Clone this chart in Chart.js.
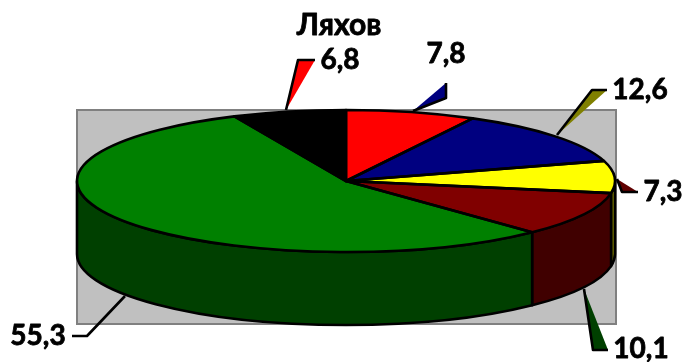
<!DOCTYPE html>
<html>
<head>
<meta charset="utf-8">
<script src="https://cdn.jsdelivr.net/npm/chart.js@4"></script>
<style>
  body { margin: 0; background: #fff; }
  canvas { display: block; }
</style>
</head>
<body>
<canvas id="myChart" width="684" height="362"></canvas>
<script>
// slices run clockwise from 12 o'clock
const categories = ["", "", "", "", "", "Ляхов"];
const values = [7.8, 12.6, 7.3, 10.1, 55.3, 6.8];
const topColors = ["#FF0000", "#000080", "#FFFF00", "#800000", "#008000", "#000000"];
const sideColors = ["#800000", "#000040", "#808000", "#400000", "#004000", "#000000"];
const leaderColors = ["#000080", "#808000", "#600000", "#004000", null, "#FF0000"];

// tilted pie geometry
const cx = 346, cy = 181, rx = 269, ry = 71, depth = 73;
const plate = { x: 77, y: 110, w: 539, h: 214 };

// callout per slice: wedge outline points, label anchor
const callouts = [
  { pts: [[413, 111], [446, 98], [446, 83]], lx: 446, ly: 54 },
  { pts: [[557, 135], [592, 90], [607, 90]], lx: 640, ly: 90 },
  { pts: [[617, 179], [622, 192], [638, 192]], lx: 663, ly: 192 },
  { pts: [[584, 289], [593, 350], [608, 350]], lx: 641, ly: 349 },
  { pts: [[125, 296], [87, 336], [72, 336]], lx: 38, ly: 336 },
  { pts: [[286, 110], [298, 60], [315, 60]], lx: 340, ly: 60 }
];

const labelFont = "bold 28px Lato, 'Noto Sans', sans-serif";
const titleFont = "bold 30px Lato, 'Noto Sans', sans-serif";
const outlineWidth = 2.6;

function slicePath(ctx, a0, a1) {
  ctx.beginPath();
  ctx.moveTo(cx, cy);
  ctx.ellipse(cx, cy, rx, ry, 0, a0, a1);
  ctx.closePath();
}

function boldText(ctx, text, x, y) {
  ctx.fillText(text, x, y);
  ctx.strokeText(text, x, y);
}

const tiltedPie = {
  id: "tiltedPie",
  beforeDraw(chart) {
    const ctx = chart.ctx;
    ctx.save();
    ctx.fillStyle = "#C0C0C0";
    ctx.strokeStyle = "#808080";
    ctx.lineWidth = 2;
    ctx.fillRect(plate.x, plate.y, plate.w, plate.h);
    ctx.strokeRect(plate.x, plate.y, plate.w, plate.h);
    ctx.restore();
  },
  beforeDatasetsDraw(chart) {
    const ctx = chart.ctx;
    const arcs = chart.getDatasetMeta(0).data;
    // walls: only the front half of the rim shows
    ctx.save();
    ctx.lineWidth = outlineWidth;
    ctx.lineJoin = "round";
    ctx.strokeStyle = "#000";
    arcs.forEach((arc, i) => {
      const a0 = Math.max(arc.startAngle, 0);
      const a1 = Math.min(arc.endAngle, Math.PI);
      if (a1 <= a0) return;
      ctx.beginPath();
      ctx.ellipse(cx, cy, rx, ry, 0, a0, a1);
      ctx.ellipse(cx, cy + depth, rx, ry, 0, a1, a0, true);
      ctx.closePath();
      ctx.fillStyle = sideColors[i];
      ctx.fill();
      ctx.stroke();
    });
    ctx.restore();
    // squash the library's round pie into the top face
    const a = arcs[0];
    ctx.save();
    ctx.translate(cx, cy);
    ctx.scale(rx / a.outerRadius, ry / a.outerRadius);
    ctx.translate(-a.x, -a.y);
  },
  afterDatasetsDraw(chart) {
    const ctx = chart.ctx;
    ctx.restore();
    const arcs = chart.getDatasetMeta(0).data;
    ctx.save();
    ctx.lineWidth = outlineWidth;
    ctx.lineJoin = "round";
    ctx.strokeStyle = "#000";
    arcs.forEach((arc) => {
      slicePath(ctx, arc.startAngle, arc.endAngle);
      ctx.stroke();
    });
    // callouts and value labels
    callouts.forEach((c, i) => {
      ctx.beginPath();
      ctx.moveTo(c.pts[0][0], c.pts[0][1]);
      ctx.lineTo(c.pts[1][0], c.pts[1][1]);
      ctx.lineTo(c.pts[2][0], c.pts[2][1]);
      if (leaderColors[i]) {
        ctx.fillStyle = leaderColors[i];
        ctx.fill();
      }
      ctx.stroke();
    });
    ctx.fillStyle = "#000";
    ctx.lineWidth = 0.8;
    ctx.font = labelFont;
    ctx.textAlign = "center";
    ctx.textBaseline = "middle";
    values.forEach((v, i) => {
      boldText(ctx, String(v).replace(".", ","), callouts[i].lx, callouts[i].ly);
    });
    ctx.font = titleFont;
    boldText(ctx, categories[5], 339, 25);
    ctx.restore();
  }
};

new Chart(document.getElementById("myChart").getContext("2d"), {
  type: "pie",
  data: {
    labels: categories,
    datasets: [{
      data: values,
      backgroundColor: topColors,
      borderWidth: 0,
      clip: false
    }]
  },
  options: {
    responsive: false,
    animation: false,
    plugins: {
      legend: { display: false },
      title: { display: false },
      tooltip: { enabled: false }
    }
  },
  plugins: [tiltedPie]
});
</script>
</body>
</html>
